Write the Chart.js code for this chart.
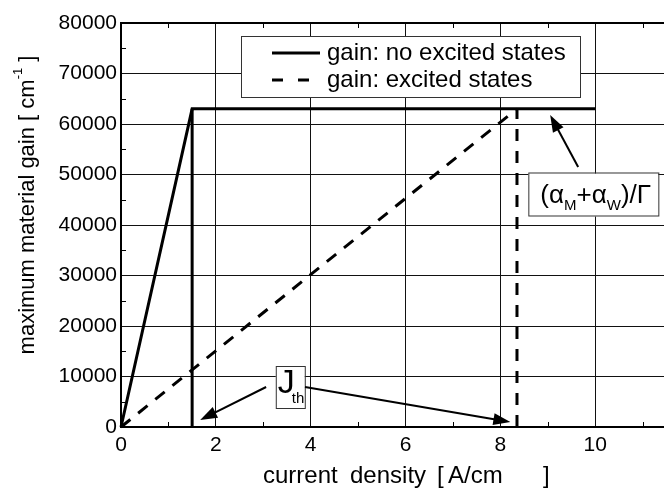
<!DOCTYPE html>
<html>
<head>
    <meta charset="UTF-8">
    <title>Maximum material gain</title>
    <script src="https://cdn.jsdelivr.net/npm/chart.js"></script>
    <style>
        html, body { margin: 0; padding: 0; background: #fff; }
        #box { width: 664px; height: 494px; }
    </style>
</head>
<body>
    <div id="box"><canvas id="gainChart"></canvas></div>

<script>
        // values
        const noExcX = [0, 1.5, 10];
        const noExcY = [0, 63000, 63000];
        const excX = [0, 8.35];
        const excY = [0, 63000];
        const thresholdX = [1.5, 8.35];     // J_th for both cases
        const thresholdY = [0, 63000];
        const xTicks = [0, 2, 4, 6, 8, 10];
        const yTicks = [0, 10000, 20000, 30000, 40000, 50000, 60000, 70000, 80000];
        const xMinor = [1, 3, 5, 7, 9, 11];
        const yMinor = [5000, 15000, 25000, 35000, 45000, 55000, 65000, 75000];
        const seriesNames = ['gain: no excited states', 'gain: excited states'];

        const FONT = '"Liberation Sans", Arial, sans-serif';

        function pts(xs, ys) {
            return xs.map((x, i) => ({ x: x, y: ys[i] }));
        }

        function arrow(ctx, x1, y1, x2, y2) {
            const a = Math.atan2(y2 - y1, x2 - x1);
            const len = 17, half = 6;
            ctx.beginPath();
            ctx.moveTo(x1, y1);
            ctx.lineTo(x2 - Math.cos(a) * len * 0.8, y2 - Math.sin(a) * len * 0.8);
            ctx.lineWidth = 2;
            ctx.stroke();
            ctx.beginPath();
            ctx.moveTo(x2, y2);
            ctx.lineTo(x2 - Math.cos(a) * len + Math.sin(a) * half, y2 - Math.sin(a) * len - Math.cos(a) * half);
            ctx.lineTo(x2 - Math.cos(a) * len - Math.sin(a) * half, y2 - Math.sin(a) * len + Math.cos(a) * half);
            ctx.closePath();
            ctx.fill();
        }

        // minor ticks, top frame, legend and labels
        const decorations = {
            id: 'decorations',
            afterDatasetsDraw(chart) {
                const ctx = chart.ctx;
                const xs = chart.scales.x, ys = chart.scales.y;
                const a = chart.chartArea;
                ctx.save();
                ctx.strokeStyle = '#000';
                ctx.fillStyle = '#000';

                // minor ticks (inward)
                ctx.lineWidth = 1;
                ctx.beginPath();
                xMinor.forEach(v => {
                    const px = Math.round(xs.getPixelForValue(v)) + 0.5;
                    ctx.moveTo(px, a.bottom); ctx.lineTo(px, a.bottom - 5);
                    ctx.moveTo(px, a.top); ctx.lineTo(px, a.top + 5);
                });
                yMinor.forEach(v => {
                    const py = Math.round(ys.getPixelForValue(v)) + 0.5;
                    ctx.moveTo(a.left, py); ctx.lineTo(a.left + 5, py);
                });
                ctx.stroke();

                // top frame
                ctx.lineWidth = 2;
                ctx.beginPath();
                ctx.moveTo(a.left, a.top); ctx.lineTo(a.right, a.top);
                ctx.stroke();

                // legend
                const lx = a.left + 120, ly = a.top + 13, lw = 339, lh = 61;
                ctx.fillStyle = '#fff';
                ctx.fillRect(lx, ly, lw, lh);
                ctx.lineWidth = 1;
                ctx.strokeStyle = '#333';
                ctx.strokeRect(lx + 0.5, ly + 0.5, lw, lh);
                ctx.strokeStyle = '#000';
                ctx.fillStyle = '#000';
                ctx.font = '24px ' + FONT;
                ctx.textBaseline = 'middle';
                ctx.textAlign = 'left';
                [0, 1].forEach(i => {
                    const ds = chart.data.datasets[i];
                    const yy = ly + 17 + i * 27;
                    ctx.lineWidth = 3;
                    ctx.setLineDash(ds.borderDash ? [11, 15] : []);
                    ctx.beginPath();
                    ctx.moveTo(lx + 31, yy); ctx.lineTo(lx + 79, yy);
                    ctx.stroke();
                    ctx.setLineDash([]);
                    ctx.fillText(ds.label, lx + 86, yy);
                });

                // J_th label + arrows
                const X = v => xs.getPixelForValue(v), Y = v => ys.getPixelForValue(v);
                const jx = X(3.58), jy = Y(7920);
                ctx.fillStyle = '#fff';
                ctx.fillRect(jx - 15, jy - 21, 29, 42);
                ctx.lineWidth = 1;
                ctx.strokeStyle = '#333';
                ctx.strokeRect(jx - 14.5, jy - 20.5, 29, 42);
                ctx.fillStyle = '#000';
                ctx.strokeStyle = '#000';
                ctx.textBaseline = 'alphabetic';
                ctx.font = '34px ' + FONT;
                ctx.fillText('J', jx - 13, jy + 6);
                ctx.font = '15px ' + FONT;
                ctx.fillText('th', jx + 1, jy + 16);
                arrow(ctx, X(3.06), Y(7920), X(1.67), Y(1390));
                arrow(ctx, X(3.88), Y(7920), X(8.21), Y(990));

                // (aM+aW)/Gamma label + arrow
                const gx = X(9.96), gy = Y(46040);
                ctx.fillStyle = '#fff';
                ctx.fillRect(gx - 65, gy - 21, 130, 43);
                ctx.lineWidth = 1;
                ctx.strokeStyle = '#333';
                ctx.strokeRect(gx - 64.5, gy - 21.5, 130, 43);
                ctx.fillStyle = '#000';
                ctx.strokeStyle = '#000';
                let cx = gx - 53;
                const big = '26px ' + FONT, small = '15px ' + FONT;
                const part = (t, f, dy) => {
                    ctx.font = f;
                    ctx.fillText(t, cx, gy + dy);
                    cx += ctx.measureText(t).width;
                };
                part('(\u03B1', big, 9);
                part('M', small, 16);
                part('+\u03B1', big, 9);
                part('W', small, 16);
                part(')/\u0393', big, 9);
                arrow(ctx, X(9.64), Y(51480), X(9.05), Y(61780));

                ctx.restore();
            },
            afterDraw(chart) {
                const ctx = chart.ctx;
                ctx.save();
                ctx.fillStyle = '#000';
                ctx.textBaseline = 'alphabetic';
                ctx.textAlign = 'left';
                // x title, words placed with the wide spacing of the original
                ctx.font = '24px ' + FONT;
                [['current', 263], ['density', 350], ['[', 437], ['A/cm', 448], [']', 543]].forEach(w => {
                    ctx.fillText(w[0], w[1], 483);
                });
                // y title with superscript
                ctx.textBaseline = 'middle';
                ctx.translate(28, 205);
                ctx.rotate(-Math.PI / 2);
                const t1 = 'maximum material gain [ cm', t2 = '-1', t3 = ' ]';
                ctx.font = '22px ' + FONT;
                const w1 = ctx.measureText(t1).width, w3 = ctx.measureText(t3).width;
                ctx.font = '13px ' + FONT;
                const w2 = ctx.measureText(t2).width;
                let x0 = -(w1 + w2 + w3) / 2;
                ctx.font = '22px ' + FONT;
                ctx.fillText(t1, x0, 0);
                ctx.font = '13px ' + FONT;
                ctx.fillText(t2, x0 + w1, -10);
                ctx.font = '22px ' + FONT;
                ctx.fillText(t3, x0 + w1 + w2, 0);
                ctx.restore();
            }
        };

        const ctx = document.getElementById('gainChart').getContext('2d');
        const gainChart = new Chart(ctx, {
            type: 'scatter',
            data: {
                datasets: [
                    { label: seriesNames[0], data: pts(noExcX, noExcY), showLine: true,
                      borderColor: '#000', borderWidth: 3, pointRadius: 0, tension: 0 },
                    { label: seriesNames[1], data: pts(excX, excY), showLine: true,
                      borderColor: '#000', borderWidth: 3, borderDash: [12, 10], pointRadius: 0 },
                    { label: 'Jth no excited', data: pts([thresholdX[0], thresholdX[0]], thresholdY), showLine: true,
                      borderColor: '#000', borderWidth: 3, pointRadius: 0 },
                    { label: 'Jth excited', data: pts([thresholdX[1], thresholdX[1]], thresholdY), showLine: true,
                      borderColor: '#000', borderWidth: 3, borderDash: [12, 10], pointRadius: 0 }
                ]
            },
            options: {
                responsive: true,
                maintainAspectRatio: false,
                animation: false,
                clip: false,
                layout: { padding: { top: 23, left: 0, right: 0, bottom: 0 } },
                plugins: { legend: { display: false }, tooltip: { enabled: false } },
                scales: {
                    x: {
                        type: 'linear', min: 0, max: 11.45,
                        afterBuildTicks: s => { s.ticks = xTicks.map(v => ({ value: v })); },
                        afterFit: s => { s.height = 67; },
                        ticks: { color: '#000', padding: 6, maxRotation: 0,
                                 font: { family: FONT, size: 21 }, callback: v => String(v) },
                        grid: { color: c => (c.tick && c.tick.value === 0) ? 'rgba(0,0,0,0)' : '#111',
                                lineWidth: 1, drawTicks: false },
                        border: { display: true, color: '#000', width: 2 }
                    },
                    y: {
                        type: 'linear', min: 0, max: 80000,
                        afterBuildTicks: s => { s.ticks = yTicks.map(v => ({ value: v })); },
                        afterFit: s => { s.width = 121; },
                        ticks: { color: '#000', padding: 4,
                                 font: { family: FONT, size: 21 }, callback: v => String(v) },
                        grid: { color: c => (c.tick && (c.tick.value === 0 || c.tick.value === 80000)) ? 'rgba(0,0,0,0)' : '#111',
                                lineWidth: 1, drawTicks: false },
                        border: { display: true, color: '#000', width: 2 }
                    }
                }
            },
            plugins: [decorations]
        });
</script>
</body>
</html>
